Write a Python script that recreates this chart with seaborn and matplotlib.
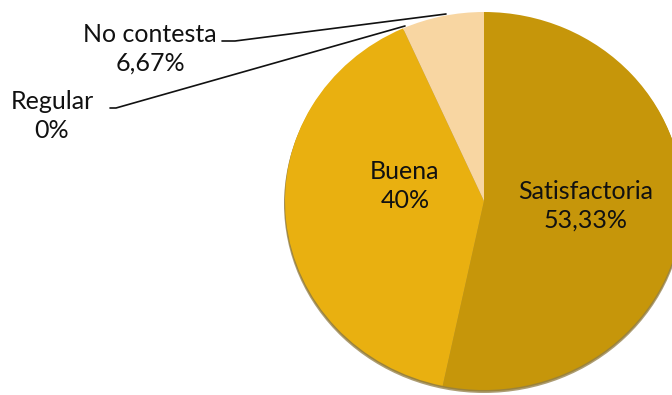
import matplotlib
matplotlib.use("Agg")
import matplotlib.pyplot as plt
from matplotlib.patches import Ellipse
import seaborn as sns

# Survey answers and their shares (%)
categories = ["Satisfactoria", "Buena", "Regular", "No contesta"]
shares = [53.33, 40.0, 0.0, 6.67]
colors = ["#C6960A", "#E9B010", "#E0A30C", "#F8D6A2"]

sns.set_theme(style="white")
plt.rcParams["font.family"] = ["Lato", "DejaVu Sans"]

W, H = 672, 395
CX, CY, RX, RY = 484, 201, 199, 189

fig = plt.figure(figsize=(W / 100, H / 100), dpi=100)
ax = fig.add_axes([0, 0, 1, 1])


def px(x, y):
    """Pixel position (top-left origin) to pie units."""
    return (x - CX) / RX, (CY - y) / RY


def fmt(v):
    return f"{v:.2f}".rstrip("0").rstrip(".").replace(".", ",") + "%"


# soft rim below the pie
ax.add_patch(Ellipse(px(CX, CY + 3), 2.0 + 2 / RX, 2.0, color="#6b4d00",
                     alpha=0.55, lw=0, zorder=0))
ax.add_patch(Ellipse(px(CX, CY + 1.5), 2.0 + 1 / RX, 2.0, color="#8a6a05",
                     alpha=0.5, lw=0, zorder=0.5))

ax.pie(shares, colors=colors, startangle=90, counterclock=False,
       radius=1.0, center=(0, 0), frame=False,
       wedgeprops=dict(linewidth=0, zorder=1))
ax.set_xlim(-CX / RX, (W - CX) / RX)
ax.set_ylim(-(H - CY) / RY, CY / RY)
ax.set_aspect("auto")
ax.axis("off")

fs = 18
text_kw = dict(ha="center", va="center", fontsize=fs, linespacing=1.3,
               color="#111111", zorder=3)
labels = {c: f"{c}\n{fmt(v)}" for c, v in zip(categories, shares)}

ax.text(*px(586, 206), labels["Satisfactoria"], **text_kw)
ax.text(*px(405, 186), labels["Buena"], **text_kw)
ax.text(*px(150, 49), labels["No contesta"], **text_kw)
ax.text(*px(52, 116), labels["Regular"], **text_kw)

# leader lines for the small slices
for pts in ([(222, 41), (235, 41), (446, 14)],
            [(110, 108), (116, 108), (405, 26)]):
    xs, ys = zip(*[px(x, y) for x, y in pts])
    ax.plot(xs, ys, color="#111111", lw=1.2, zorder=2)

fig.savefig("out.png", dpi=100)
